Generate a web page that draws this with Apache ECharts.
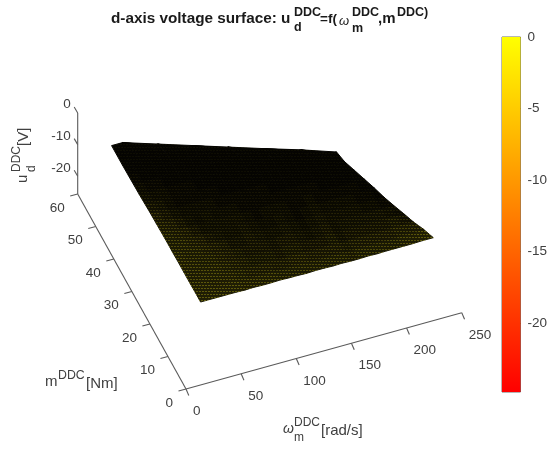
<!DOCTYPE html>
<html>
<head>
<meta charset="utf-8">
<style>
html,body{margin:0;padding:0;background:#fff}
#main{width:550px;height:450px}
</style>
<script src="https://cdn.jsdelivr.net/npm/echarts@6/dist/echarts.min.js"></script>
</head>
<body>
<div id="main"></div>
<script>
// chart data
var omegaGrid = [16,24,32,40,48,56,64,72,80,88,96,104,112,120,128,136,144,152,160,168,176,184,192,200,208,216,224,232];
var torqueRows = [1.7,4.8,7.9,11,14.1,17.2,20.3,23.4,26.5,29.6,32.7,35.9,39,42,45,48,51];
var rowEnd = [227,223,219,215.5,211.5,207.5,204,200,196,192,190,163,134,107,80,53,26];
var voltage = [
  [-1.4,-1.4,-1.4,-1.4,-1.4,-1.5,-1.4,-1.5,-1.5,-1.4,-1.5,-1.5,-1.6,-1.5,-1.5,-1.6,-1.5,-1.6,-1.6,-1.5,-1.6,-1.5,-1.5,-1.5,-1.5,-1.4,-1.4,-1.4],
  [-1.4,-1.4,-1.5,-1.5,-1.5,-1.5,-1.6,-1.7,-1.6,-1.7,-1.8,-1.7,-1.7,-1.7,-1.8,-1.8,-1.7,-1.8,-1.8,-1.7,-1.8,-1.7,-1.7,-1.7,-1.6,-1.6,-1.5],
  [-1.5,-1.5,-1.5,-1.5,-1.6,-1.6,-1.7,-1.8,-1.9,-1.8,-2.0,-1.9,-1.8,-1.9,-2.0,-2.0,-1.9,-2.0,-2.1,-1.9,-2.0,-1.9,-2.0,-1.9,-1.8,-1.9,-2.0],
  [-1.5,-1.5,-1.6,-1.6,-1.6,-1.7,-1.8,-2.0,-2.1,-2.0,-2.2,-2.1,-2.0,-2.0,-2.2,-2.2,-2.0,-2.1,-2.3,-2.0,-2.2,-2.1,-2.1,-2.1,-2.2,-2.3],
  [-1.5,-1.6,-1.6,-1.6,-1.7,-1.8,-2.0,-2.2,-2.1,-2.0,-2.2,-2.3,-2.0,-2.1,-2.3,-2.4,-2.1,-2.2,-2.3,-2.2,-2.2,-2.3,-2.2,-2.3,-2.4,-2.5],
  [-1.6,-1.6,-1.6,-1.7,-1.9,-2.0,-2.2,-2.3,-2.1,-2.2,-2.3,-2.4,-2.2,-2.2,-2.4,-2.4,-2.2,-2.3,-2.4,-2.3,-2.3,-2.4,-2.4,-2.5,-2.6],
  [-1.6,-1.7,-1.7,-1.9,-2.1,-2.3,-2.2,-2.3,-2.2,-2.3,-2.4,-2.4,-2.3,-2.3,-2.4,-2.5,-2.3,-2.4,-2.5,-2.4,-2.4,-2.5,-2.5,-2.5,-2.6],
  [-1.7,-1.7,-1.9,-2.1,-2.3,-2.3,-2.2,-2.4,-2.3,-2.4,-2.4,-2.5,-2.4,-2.4,-2.5,-2.5,-2.4,-2.5,-2.5,-2.5,-2.5,-2.5,-2.6,-2.6],
  [-1.8,-1.9,-2.0,-2.3,-2.4,-2.3,-2.3,-2.4,-2.4,-2.4,-2.5,-2.5,-2.5,-2.5,-2.5,-2.5,-2.5,-2.5,-2.6,-2.6,-2.6,-2.6,-2.6,-2.6],
  [-1.9,-2.0,-2.2,-2.4,-2.4,-2.4,-2.4,-2.5,-2.5,-2.5,-2.5,-2.6,-2.5,-2.6,-2.6,-2.6,-2.6,-2.6,-2.6,-2.6,-2.6,-2.6,-2.6],
  [-2.1,-2.2,-2.3,-2.4,-2.5,-2.5,-2.5,-2.5,-2.6,-2.6,-2.6,-2.6,-2.6,-2.6,-2.6,-2.6,-2.6,-2.6,-2.6,-2.6,-2.6,-2.6,-2.6],
  [-2.3,-2.4,-2.4,-2.5,-2.5,-2.5,-2.6,-2.6,-2.6,-2.6,-2.6,-2.6,-2.6,-2.6,-2.6,-2.6,-2.6,-2.6,-2.6,-2.6],
  [-2.4,-2.5,-2.5,-2.6,-2.6,-2.6,-2.6,-2.6,-2.6,-2.6,-2.6,-2.6,-2.6,-2.6,-2.6,-2.6],
  [-2.5,-2.6,-2.6,-2.6,-2.6,-2.6,-2.6,-2.6,-2.6,-2.6,-2.6,-2.6,-2.6],
  [-2.6,-2.6,-2.6,-2.6,-2.6,-2.6,-2.6,-2.6,-2.6],
  [-2.6,-2.6,-2.6,-2.6,-2.6,-2.6],
  [-2.6,-2.6,-2.6]
];
var omegaTicks = [0,50,100,150,200,250];
var torqueTicks = [0,10,20,30,40,50,60];
var voltageTicks = [0,-10,-20];
var colorbarTicks = [0,-5,-10,-15,-20];
var colorMin = -24.8;
var voltFloor = -25.6;

var textColor = '#404040';
var lineColor = '#5a5a5a';
var fontName = '"Liberation Sans", Arial, sans-serif';

// view of the 3d box on the page
function project(w, m, u) {
    return [
        186 + w * 1.103 - m * 1.805,
        389 - w * 0.305 - m * 3.25 - (u - voltFloor) * 3.164
    ];
}

function ramp(u) {
    var t = (u - colorMin) / (0 - colorMin);
    return [255, Math.round(255 * t), 0];
}

// the mesh is much finer than a pixel or two, so faces are filled with a hatch of yellow and black edges
var hatchCache = {};
function hatch(u) {
    var light = Math.max(0, Math.min(0.42, 0.05 + (2.62 + u) * 0.3));
    light = Math.round(light * 32) / 32;
    var rgb = ramp(u);
    var key = light + '_' + rgb[1];
    if (hatchCache[key]) return hatchCache[key];
    var cv = document.createElement('canvas');
    cv.width = 6;
    cv.height = 6;
    var ctx = cv.getContext('2d');
    function paint(f) {
        return 'rgb(' + Math.round(rgb[0] * light * f) + ',' + Math.round(rgb[1] * light * f) + ',' + Math.round(30 * light * f) + ')';
    }
    ctx.fillStyle = paint(0.3);
    ctx.fillRect(0, 0, 6, 6);
    ctx.fillStyle = paint(0.9);
    ctx.fillRect(0, 0, 2, 1);
    ctx.fillRect(3, 0, 2, 1);
    ctx.fillRect(1, 3, 2, 1);
    ctx.fillRect(4, 3, 2, 1);
    hatchCache[key] = {image: cv, repeat: 'repeat'};
    return hatchCache[key];
}

function meshPoint(k, j) {
    var row = voltage[j];
    var w = Math.min(omegaGrid[k], rowEnd[j]);
    var u = row[Math.min(k, row.length - 1)];
    return {w: w, m: torqueRows[j], u: u};
}

var cells = [];
for (var j = 0; j < torqueRows.length - 1; j++) {
    for (var k = 0; k < Math.max(voltage[j].length, voltage[j + 1].length) - 1; k++) {
        cells.push([k, j]);
    }
}

function renderCell(params, api) {
    var k = api.value(0), j = api.value(1);
    var c = [meshPoint(k, j), meshPoint(k + 1, j), meshPoint(k + 1, j + 1), meshPoint(k, j + 1)];
    var pts = c.map(function (p) { return api.coord(project(p.w, p.m, p.u)); });
    var mean = (c[0].u + c[1].u + c[2].u + c[3].u) / 4;
    var fill = hatch(mean);
    return {
        type: 'polygon',
        shape: {points: pts},
        style: {fill: fill, stroke: fill, lineWidth: 1}
    };
}

// oblique axes: tick, label, and the axis line on the first tick
function axisRenderer(toPoint, tickDir, labelOff, align, lastVal) {
    return function (params, api) {
        var v = api.value(0);
        var p = api.coord(toPoint(v));
        var kids = [];
        var lineStyle = {stroke: lineColor, lineWidth: 1.1};
        if (params.dataIndex === 0) {
            var e = api.coord(toPoint(lastVal));
            kids.push({type: 'line', shape: {x1: p[0], y1: p[1], x2: e[0], y2: e[1]}, style: lineStyle});
        }
        kids.push({type: 'line', shape: {x1: p[0], y1: p[1], x2: p[0] + tickDir[0], y2: p[1] + tickDir[1]}, style: lineStyle});
        kids.push({
            type: 'text',
            style: {
                text: String(v), x: p[0] + labelOff[0], y: p[1] + labelOff[1],
                align: align, verticalAlign: 'middle',
                font: '13.5px ' + fontName, fill: textColor
            }
        });
        return {type: 'group', children: kids};
    };
}

function axisSeries(ticks, renderer) {
    return {
        type: 'custom', coordinateSystem: 'cartesian2d', xAxisIndex: 0, yAxisIndex: 0,
        data: ticks.map(function (t) { return [t]; }),
        encode: {x: 0}, clip: false, silent: true, animation: false, renderItem: renderer
    };
}

// text at a baseline, as in the original figure
function txt(str, x, base, size, extra) {
    extra = extra || {};
    return {
        type: 'text', x: x, y: base - size * 0.36 + 1, silent: true,
        style: {
            text: str, align: 'left', verticalAlign: 'middle',
            font: (extra.style || '') + ' ' + size + 'px ' + (extra.family || fontName),
            fill: extra.fill || textColor
        }
    };
}
// same, reading upwards
function txtUp(str, baseX, y, size) {
    return {
        type: 'text', x: baseX - size * 0.36 + 1, y: y, rotation: Math.PI / 2, silent: true,
        style: {
            text: str, align: 'left', verticalAlign: 'middle',
            font: size + 'px ' + fontName, fill: textColor
        }
    };
}

var boldT = {style: 'bold', fill: '#1a1a1a'};
var labels = [
    txt('d-axis voltage surface: u', 111, 23.5, 15.3, boldT),
    txt('DDC', 294, 16, 12.5, boldT),
    txt('d', 294, 31, 12.5, boldT),
    txt('=f(', 320, 23.5, 13.5, boldT),
    txt('ω', 339, 25, 13, {style: 'italic', fill: '#1a1a1a'}),
    txt('DDC', 352, 16, 12.5, boldT),
    txt('m', 352, 32, 12.5, boldT),
    txt(',m', 378, 23.5, 15, boldT),
    txt('DDC)', 397, 16, 12.5, boldT),

    txtUp('u', 27.5, 183, 15),
    txtUp('DDC', 20, 172, 12),
    txtUp('d', 35, 172, 12),
    txtUp('[V]', 28, 146, 15),

    txt('m', 45, 386.5, 15),
    txt('DDC', 58, 379, 12.3),
    txt('[Nm]', 86, 388, 15),

    txt('ω', 283, 433, 14, {style: 'italic'}),
    txt('DDC', 294, 426, 12),
    txt('m', 294, 441, 12),
    txt('[rad/s]', 321, 435, 15)
];

var chart = echarts.init(document.getElementById('main'));
chart.setOption({
    animation: false,
    backgroundColor: '#fff',
    grid: [
        {left: 0, top: 0, width: 550, height: 450},
        {left: 502, top: 37, width: 21, height: 355, show: true, borderColor: 'rgba(60,60,60,0.75)', borderWidth: 1, backgroundColor: 'transparent'}
    ],
    xAxis: [
        {gridIndex: 0, type: 'value', min: 0, max: 550, show: false},
        {gridIndex: 1, type: 'category', data: [''], show: false}
    ],
    yAxis: [
        {gridIndex: 0, type: 'value', min: 0, max: 450, inverse: true, show: false},
        {
            gridIndex: 1, type: 'value', position: 'right', min: colorMin, max: 0,
            splitLine: {show: false},
            axisLine: {show: false},
            axisTick: {show: true, inside: true, length: 3, customValues: colorbarTicks, lineStyle: {color: '#6a4a10'}},
            axisLabel: {show: true, margin: 7, color: textColor, fontSize: 13.5, fontFamily: 'Liberation Sans', customValues: colorbarTicks}
        }
    ],
    series: [
        axisSeries(omegaTicks, axisRenderer(function (v) { return project(v, 0, voltFloor); }, [2.8, 6.5], [7, 22.5], 'left', 250)),
        axisSeries(torqueTicks, axisRenderer(function (v) { return project(0, v, voltFloor); }, [-7.5, 2], [-13, 14.2], 'right', 60)),
        axisSeries(voltageTicks, axisRenderer(function (v) { return project(0, 60, v); }, [-3.5, -6], [-7, -8.4], 'right', voltFloor)),
        {
            type: 'custom', coordinateSystem: 'cartesian2d', xAxisIndex: 0, yAxisIndex: 0,
            data: cells, encode: {x: 0, y: 1}, clip: false, silent: true, animation: false,
            renderItem: renderCell
        },
        {
            type: 'bar', xAxisIndex: 1, yAxisIndex: 1, data: [colorMin], barWidth: '100%', silent: true,
            itemStyle: {
                color: new echarts.graphic.LinearGradient(0, 0, 0, 1, [
                    {offset: 0, color: '#ffff00'},
                    {offset: 1, color: '#ff0000'}
                ])
            }
        }
    ],
    graphic: {elements: labels}
});
</script>
</body>
</html>
